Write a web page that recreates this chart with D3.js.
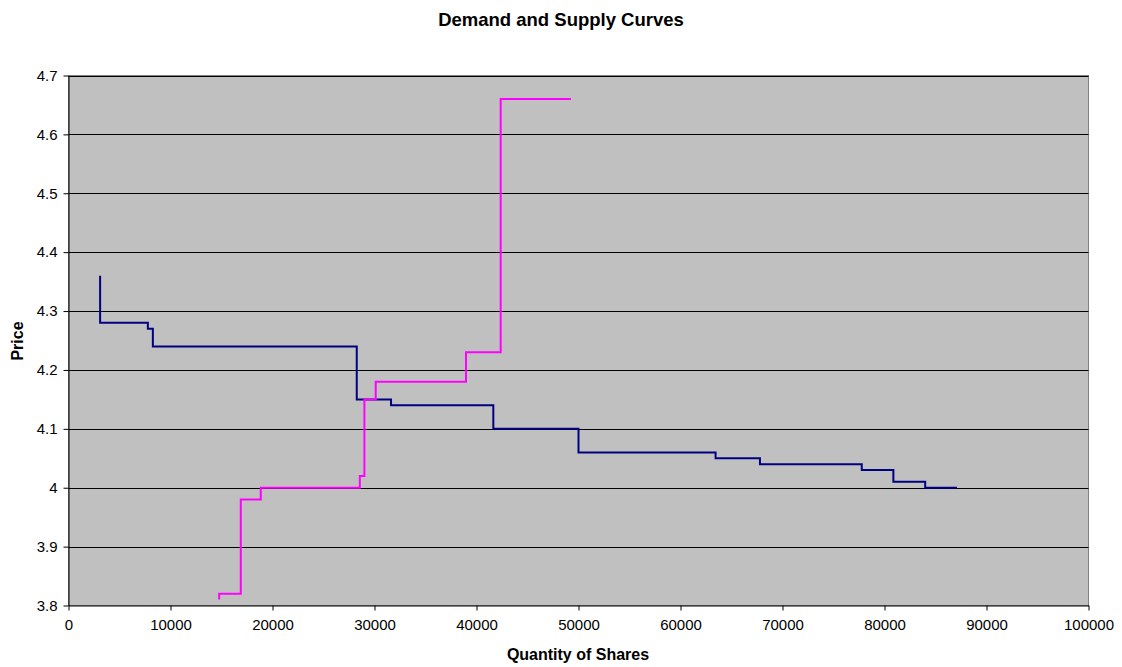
<!DOCTYPE html>
<html><head><meta charset="utf-8">
<script src="https://cdn.jsdelivr.net/npm/d3@7"></script>
<style>body{margin:0;background:#fff;} text{font-family:"Liberation Sans",Arial,sans-serif;}</style>
</head><body>
<svg id="c" width="1122" height="667"></svg>
<script>
const demandQty   = [3100, 3100, 7780, 8270, 28260, 31620, 41650, 50000, 63440, 67790, 77770, 80870, 83990, 87100];
const demandPrice = [4.36, 4.28, 4.27, 4.24, 4.15, 4.14, 4.10, 4.06, 4.05, 4.04, 4.03, 4.01, 4.00, 4.00];
const supplyQty   = [14770, 14770, 16890, 18850, 28560, 29010, 30120, 38970, 42370, 49260];
const supplyPrice = [3.81, 3.82, 3.98, 4.00, 4.02, 4.15, 4.18, 4.23, 4.66, 4.66];
const xTicks = [0,10000,20000,30000,40000,50000,60000,70000,80000,90000,100000];
const yTicks = [3.8,3.9,4.0,4.1,4.2,4.3,4.4,4.5,4.6,4.7];

const svg = d3.select("#c");
const L=68.5, R=1088.5, T=75.5, B=605.5;
const x = d3.scaleLinear().domain([0,100000]).range([L,R]);
const y = d3.scaleLinear().domain([3.8,4.7]).range([B,T]);

svg.append("rect").attr("x",L).attr("y",T).attr("width",R-L).attr("height",B-T).attr("fill","#C0C0C0").attr("stroke","#808080");

svg.append("g").selectAll("line").data(yTicks.slice(1)).join("line")
  .attr("x1",L).attr("x2",R).attr("y1",d=>Math.round(y(d))+0.5).attr("y2",d=>Math.round(y(d))+0.5)
  .attr("stroke","#000").attr("stroke-width",1);

const yAxis = svg.append("g").attr("transform",`translate(${L},0)`)
  .call(d3.axisLeft(y).tickValues(yTicks).tickFormat(d=>d3.format("")(+d.toFixed(1))).tickSize(5).tickSizeOuter(0));
const xAxis = svg.append("g").attr("transform",`translate(0,${B})`)
  .call(d3.axisBottom(x).tickValues(xTicks).tickFormat(d3.format("d")).tickSize(5).tickSizeOuter(0));
[yAxis,xAxis].forEach(a=>{
  a.selectAll("path").attr("stroke","#000");
  a.selectAll("line").attr("stroke","#000");
  a.selectAll("text").attr("font-size","15px").attr("fill","#000");
});
yAxis.selectAll("text").attr("x",-11);
xAxis.selectAll("text").attr("y",14);

const line = d3.line().x(d=>x(d[0])).y(d=>y(d[1])).curve(d3.curveStepAfter);
svg.append("path").datum(demandQty.map((q,i)=>[q,demandPrice[i]]))
  .attr("d",line).attr("fill","none").attr("stroke","#000080").attr("stroke-width",2);
svg.append("path").datum(supplyQty.map((q,i)=>[q,supplyPrice[i]]))
  .attr("d",line).attr("fill","none").attr("stroke","#FF00FF").attr("stroke-width",2);

svg.append("text").attr("x",561).attr("y",26).attr("text-anchor","middle")
  .attr("font-size","18.5px").attr("font-weight","bold").text("Demand and Supply Curves");
svg.append("text").attr("x",578).attr("y",660).attr("text-anchor","middle")
  .attr("font-size","16px").attr("font-weight","bold").text("Quantity of Shares");
svg.append("text").attr("transform","translate(23,341) rotate(-90)").attr("text-anchor","middle")
  .attr("font-size","16px").attr("font-weight","bold").text("Price");
</script>
</body></html>
